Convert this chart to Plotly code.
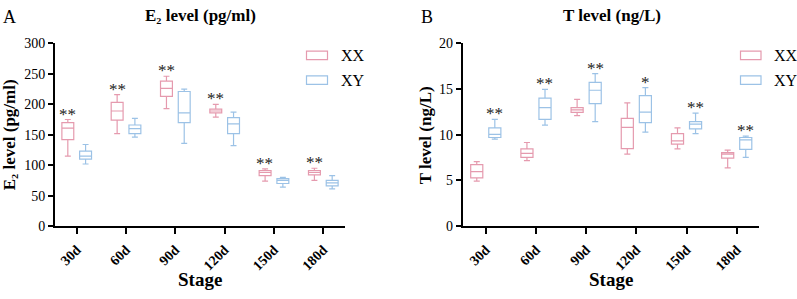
import plotly.graph_objects as go

stages = ["30d", "60d", "90d", "120d", "150d", "180d"]

# Panel A: E2 level (pg/ml)
e2_xx_low = [115, 152, 193, 179, 74, 75]
e2_xx_q1 = [142, 174, 213, 186, 83, 84]
e2_xx_med = [161, 189, 226, 189, 88, 88]
e2_xx_q3 = [170, 203, 238, 192, 91, 91]
e2_xx_high = [175, 216, 246, 200, 94, 95]

e2_xy_low = [102, 146, 136, 132, 64, 61]
e2_xy_q1 = [110, 152, 170, 152, 70, 66]
e2_xy_med = [115, 160, 186, 168, 75, 71]
e2_xy_q3 = [123, 166, 221, 178, 78, 75]
e2_xy_high = [134, 177, 225, 187, 80, 83]

e2_sig = ["**", "**", "**", "**", "**", "**"]

# Panel B: T level (ng/L)
t_xx_low = [4.93, 7.17, 12.1, 7.87, 8.46, 6.38]
t_xx_q1 = [5.27, 7.52, 12.44, 8.49, 8.98, 7.45]
t_xx_med = [5.97, 7.97, 12.72, 10.81, 9.32, 7.87]
t_xx_q3 = [6.73, 8.46, 12.96, 11.79, 10.12, 8.05]
t_xx_high = [7.07, 9.15, 13.87, 13.48, 10.75, 8.32]

t_xy_low = [9.53, 11.06, 11.43, 10.29, 10.12, 7.52]
t_xy_q1 = [9.7, 11.68, 13.41, 11.33, 10.64, 8.39]
t_xy_med = [10.05, 12.96, 14.87, 12.47, 11.16, 9.43]
t_xy_q3 = [10.75, 14.0, 15.74, 14.28, 11.43, 9.7]
t_xy_high = [11.68, 14.97, 16.7, 15.15, 12.37, 9.84]

t_sig = ["**", "**", "**", "*", "**", "**"]

PINK = "#E59AAE"
BLUE = "#9CC2E6"
FONT = "Liberation Serif, Times New Roman, DejaVu Serif, serif"

fig = go.Figure()


def add_box(name, color, low, q1, med, q3, high, xa, ya):
    fig.add_trace(go.Box(
        name=name, x=stages, lowerfence=low, q1=q1, median=med, q3=q3,
        upperfence=high, xaxis=xa, yaxis=ya,
        line=dict(color=color, width=1.2), fillcolor="rgba(0,0,0,0)",
        boxpoints=False, whiskerwidth=0.5, showlegend=False, offsetgroup=name,
    ))


add_box("XX", PINK, e2_xx_low, e2_xx_q1, e2_xx_med, e2_xx_q3, e2_xx_high, "x", "y")
add_box("XY", BLUE, e2_xy_low, e2_xy_q1, e2_xy_med, e2_xy_q3, e2_xy_high, "x", "y")
add_box("XX", PINK, t_xx_low, t_xx_q1, t_xx_med, t_xx_q3, t_xx_high, "x2", "y2")
add_box("XY", BLUE, t_xy_low, t_xy_q1, t_xy_med, t_xy_q3, t_xy_high, "x2", "y2")

star_font = dict(family=FONT, size=17, color="#222")
ann = []
for i, s in enumerate(stages):
    ann.append(dict(x=s, y=e2_xx_high[i], xref="x", yref="y", text=e2_sig[i],
                    showarrow=False, yanchor="bottom", xshift=-9, yshift=-6,
                    font=star_font))
    ann.append(dict(x=s, y=t_xy_high[i], xref="x2", yref="y2", text=t_sig[i],
                    showarrow=False, yanchor="bottom", xshift=9, yshift=-6,
                    font=star_font))

W, H = 797, 299
bold = dict(family=FONT, size=17, color="black")
texts = [
    ("A", 9, 11, 0, "center", dict(family=FONT, size=18, color="black")),
    ("B", 427, 11, 0, "center", dict(family=FONT, size=18, color="black")),
    ("<b>E₂ level (pg/ml)</b>", 200, 9, 0, "center", bold),
    ("<b>T level (ng/L)</b>", 612, 9, 0, "center", bold),
    ("<b>E₂ level (pg/ml)</b>", 9, 135, -90, "center", bold),
    ("<b>T level (ng/L)</b>", 425, 135, -90, "center", bold),
    ("<b>Stage</b>", 200, 287, 0, "center", dict(family=FONT, size=19, color="black")),
    ("<b>Stage</b>", 611, 287, 0, "center", dict(family=FONT, size=19, color="black")),
    ("XX", 339, 51, 0, "left", dict(family=FONT, size=16, color="black")),
    ("XY", 339, 77, 0, "left", dict(family=FONT, size=16, color="black")),
    ("XX", 772, 51, 0, "left", dict(family=FONT, size=16, color="black")),
    ("XY", 772, 77, 0, "left", dict(family=FONT, size=16, color="black")),
]
for t, px, py, ang, xa, f in texts:
    ann.append(dict(text=t, x=px / W, y=1 - py / H, xref="paper", yref="paper",
                    showarrow=False, textangle=ang, font=f,
                    xanchor=xa, yanchor="middle"))

shapes = []
for (x0, x1) in [(306.5, 327.5), (740.5, 761)]:
    for (y0, y1), c in zip([(46.5, 55.5), (72.5, 81.5)], [PINK, BLUE]):
        shapes.append(dict(type="rect", xref="paper", yref="paper",
                           x0=x0 / W, x1=x1 / W, y0=1 - y1 / H, y1=1 - y0 / H,
                           line=dict(color=c, width=1.2)))

axis_common = dict(showline=True, linecolor="black", linewidth=2, ticks="outside",
                   tickwidth=2, tickcolor="black", showgrid=False, zeroline=False,
                   tickfont=dict(family=FONT, size=14, color="black"))

fig.update_layout(
    width=W, height=H, autosize=False, margin=dict(l=0, r=0, t=0, b=0),
    plot_bgcolor="white", paper_bgcolor="white",
    font=dict(family=FONT),
    boxmode="group", boxgap=0.28, boxgroupgap=0.33,
    annotations=ann, shapes=shapes,
    xaxis=dict(domain=[55 / W, 345 / W], anchor="y", type="category",
               categoryorder="array", categoryarray=stages, range=[-0.44, 5.44],
               tickangle=-45, ticklen=6, ticklabelstandoff=2,
               tickprefix="<b>", ticksuffix="</b>", **axis_common),
    yaxis=dict(domain=[1 - 230.7 / H, 1 - 38.3 / H], anchor="x", range=[0, 300],
               tickvals=[0, 50, 100, 150, 200, 250, 300], ticklen=5,
               tickprefix="<b>", ticksuffix="</b>", **axis_common),
    xaxis2=dict(domain=[462.7 / W, 759.3 / W], anchor="y2", type="category",
                categoryorder="array", categoryarray=stages, range=[-0.46, 5.45],
                tickangle=-45, ticklen=6, ticklabelstandoff=2,
                tickprefix="<b>", ticksuffix="</b>", **axis_common),
    yaxis2=dict(domain=[1 - 230.7 / H, 1 - 38.3 / H], anchor="x2", range=[0, 20],
                tickvals=[0, 5, 10, 15, 20], ticklen=5,
                tickprefix="<b>", ticksuffix="</b>", **axis_common),
)

fig.write_html(
    "out.html",
    config={"responsive": False, "displayModeBar": False},
    post_script=("document.documentElement.style.margin='0';"
                 "document.body.style.margin='0';"
                 "document.body.style.overflow='hidden';"),
)
